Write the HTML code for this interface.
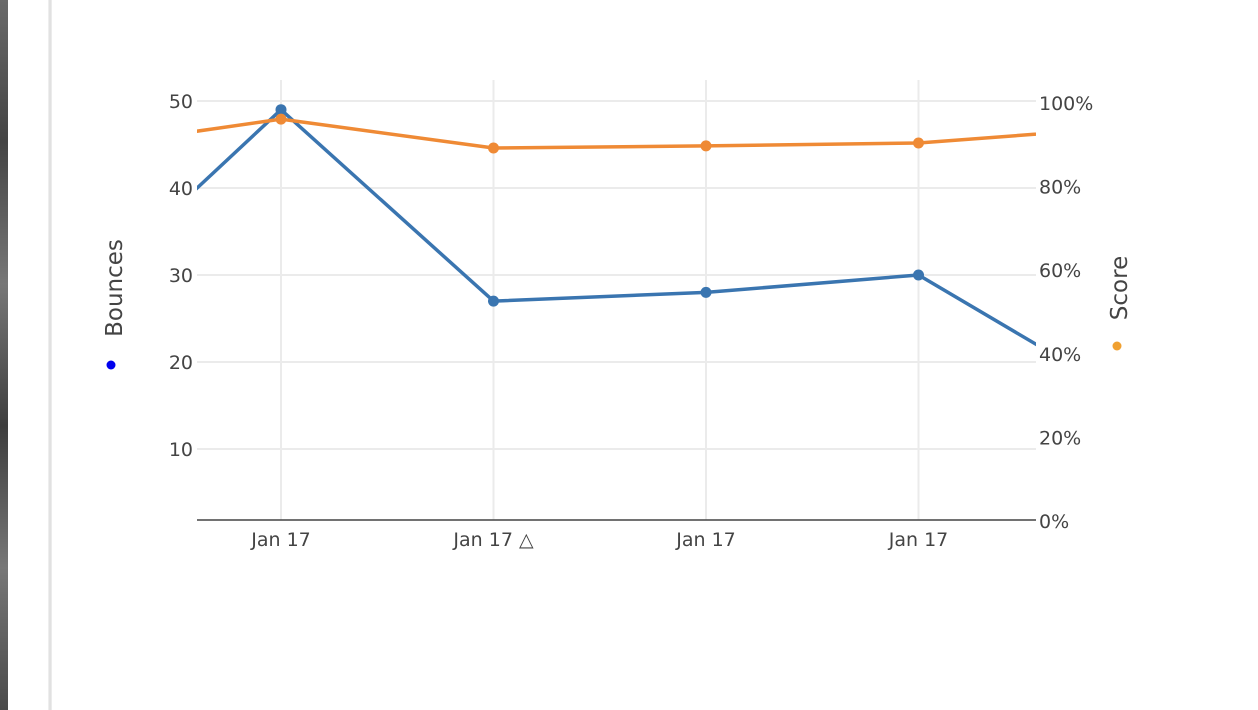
<!DOCTYPE html>
<html><head><meta charset="utf-8"><style>
body{margin:0;width:1258px;height:710px;background:#fff;overflow:hidden;font-family:"DejaVu Sans","Liberation Sans",sans-serif}
#strip{position:absolute;left:0;top:0;width:8px;height:710px;background:linear-gradient(#6a6a6a,#444 20%,#777 40%,#3e3e3e 60%,#777 80%,#4a4a4a)}
#edge{position:absolute;left:48px;top:0;width:4px;height:710px;background:linear-gradient(90deg,#f4f4f4,#dcdcdc,#f0f0f0)}
</style></head><body>
<div id="strip"></div>
<div id="edge"></div>
<svg id="chart" width="1258" height="710" style="position:absolute;left:0;top:0"></svg>
<script>
const categories=["","Jan 17","Jan 17 △","Jan 17","Jan 17",""];
const bounces=[26.2,49,27,28,30,15.6];
const score=[0.886,0.959,0.89,0.895,0.902,0.94];
const leftTicks=[10,20,30,40,50];
const rightTicks=[0,0.2,0.4,0.6,0.8,1.0];
const NS="http://www.w3.org/2000/svg";
const svg=document.getElementById('chart');
const X0=197,X1=1036,TOP=102,BOT=520;
const xs=i=>281+(i-1)*212.5;
const yL=v=>536-(v)*8.7;
const yR=v=>BOT-v*(BOT-TOP);
function mk(t,a){const e=document.createElementNS(NS,t);for(const k in a)e.setAttribute(k,a[k]);svg.appendChild(e);return e;}
const defs=mk('defs',{});const cp=document.createElementNS(NS,'clipPath');cp.setAttribute('id','c');
const r=document.createElementNS(NS,'rect');r.setAttribute('x',X0);r.setAttribute('y',60);r.setAttribute('width',X1-X0);r.setAttribute('height',470);cp.appendChild(r);defs.appendChild(cp);
for(let i=1;i<=4;i++){const g=mk('line',{x1:xs(i),x2:xs(i),y1:80,y2:BOT,stroke:'#ebebeb','stroke-width':2});


const t=mk('text',{x:xs(i),y:546,'text-anchor':'middle','font-size':19,fill:'#444'});t.textContent=categories[i];

}
leftTicks.forEach(v=>{const g=mk('line',{x1:X0,x2:X1,y1:yL(v),y2:yL(v),stroke:'#ebebeb','stroke-width':2});


const t=mk('text',{x:193,y:yL(v)+7,'text-anchor':'end','font-size':19,fill:'#444'});t.textContent=v;

});
rightTicks.forEach(v=>{const t=mk('text',{x:1039,y:yR(v)+8,'font-size':19,fill:'#444'});t.textContent=Math.round(v*100)+'%';

});
const ax=mk('line',{x1:X0,x2:X1,y1:BOT,y2:BOT,stroke:'#444','stroke-width':1.5});


function series(vals,yf,col,name){
const p=mk('polyline',{points:vals.map((v,i)=>xs(i)+','+yf(v)).join(' '),fill:'none',stroke:col,'stroke-width':3.5,'clip-path':'url(#c)','stroke-linejoin':'round'});


for(let i=1;i<=4;i++){const c=mk('circle',{cx:xs(i),cy:yf(vals[i]),r:5.5,fill:col});

}}
series(bounces,yL,'#3a75b0','bounces');
series(score,yR,'#ef8a35','score');
let t=mk('text',{x:0,y:0,'font-size':23,fill:'#444','text-anchor':'middle',transform:'translate(122,288) rotate(-90)'});t.textContent='Bounces';


let d=mk('circle',{cx:111,cy:365,r:4.5,fill:'#0000ee'});


t=mk('text',{x:0,y:0,'font-size':23,fill:'#444','text-anchor':'middle',transform:'translate(1127,288) rotate(-90)'});t.textContent='Score';


d=mk('circle',{cx:1117,cy:346,r:4.5,fill:'#f0a030'});


</script>
</body></html>
